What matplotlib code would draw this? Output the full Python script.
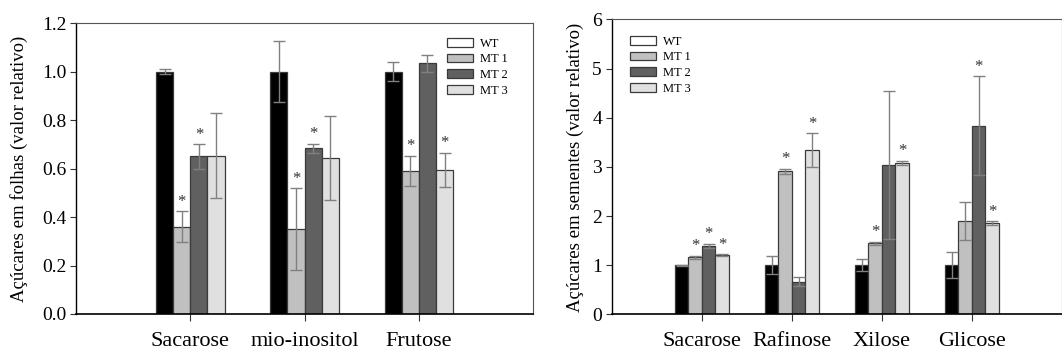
import numpy as np
import matplotlib
matplotlib.use("Agg")
import matplotlib.pyplot as plt
from matplotlib.patches import Patch

plt.rcParams['font.family'] = ['Liberation Serif', 'DejaVu Serif']

# leaves
leaf_sugars = ['Sacarose', 'mio-inositol', 'Frutose']
leaf_wt = [1.00, 1.00, 1.00]
leaf_mt1 = [0.36, 0.35, 0.59]
leaf_mt2 = [0.65, 0.683, 1.034]
leaf_mt3 = [0.653, 0.645, 0.594]
leaf_wt_err = [0.01, 0.125, 0.038]
leaf_mt1_err = [0.064, 0.17, 0.063]
leaf_mt2_err = [0.05, 0.02, 0.034]
leaf_mt3_err = [0.175, 0.173, 0.071]
leaf_mt1_sig = [True, True, True]
leaf_mt2_sig = [True, True, False]
leaf_mt3_sig = [False, False, True]

# seeds
seed_sugars = ['Sacarose', 'Rafinose', 'Xilose', 'Glicose']
seed_wt = [1.00, 1.00, 1.00, 1.00]
seed_mt1 = [1.166, 2.91, 1.45, 1.90]
seed_mt2 = [1.39, 0.66, 3.04, 3.84]
seed_mt3 = [1.20, 3.34, 3.08, 1.85]
seed_wt_err = [0.01, 0.18, 0.12, 0.26]
seed_mt1_err = [0.03, 0.05, 0.03, 0.38]
seed_mt2_err = [0.05, 0.09, 1.50, 1.00]
seed_mt3_err = [0.02, 0.35, 0.05, 0.04]
seed_mt1_sig = [True, True, True, False]
seed_mt2_sig = [True, False, False, True]
seed_mt3_sig = [True, True, True, True]

labels = ['WT', 'MT 1', 'MT 2', 'MT 3']
colors = ['#000000', '#c0c0c0', '#606060', '#e0e0e0']
legend_colors = ['#ffffff', '#c0c0c0', '#606060', '#e0e0e0']
w = 0.15
offsets = [-0.225, -0.075, 0.075, 0.225]


def draw_panel(ax, cats, series, errs, sigs, ylim, yticks, ylabel, legend_pos):
    x = np.arange(1, len(cats) + 1)
    for i, (vals, err) in enumerate(zip(series, errs)):
        ax.bar(x + offsets[i], vals, w, color=colors[i], edgecolor='#3a3a3a',
               linewidth=0.9, zorder=2)
        ax.errorbar(x + offsets[i], vals, yerr=err, fmt='none', ecolor='#808080',
                    elinewidth=1.0, capsize=4, capthick=1.0, zorder=3)
        if sigs[i] is not None:
            for xi, v, e, s in zip(x, vals, err, sigs[i]):
                if s:
                    ax.annotate('*', (xi + offsets[i], v + e), xytext=(0, 1),
                                textcoords='offset points', ha='center', va='bottom',
                                fontsize=12, color='#333333')
    ax.set_xlim(0, len(cats) + 1)
    ax.set_ylim(*ylim)
    ax.set_yticks(yticks)
    ax.set_xticks(x)
    ax.set_xticklabels(cats, fontsize=16)
    ax.set_ylabel(ylabel, fontsize=13.5)
    ax.tick_params(axis='x', direction='out', length=5, pad=8, color='#333333')
    ax.tick_params(axis='y', direction='out', length=4, pad=3, labelsize=14, color='#333333')
    for s in ['top', 'right']:
        ax.spines[s].set_color('#555555')
        ax.spines[s].set_linewidth(0.8)
    ax.spines['bottom'].set_linewidth(1.2)
    ax.spines['left'].set_linewidth(1.0)
    handles = [Patch(facecolor=c, edgecolor='#3a3a3a', linewidth=0.9) for c in legend_colors]
    ax.legend(handles, labels, loc='upper left', bbox_to_anchor=legend_pos, frameon=False,
              fontsize=9, handlelength=2.1, handleheight=0.7, labelspacing=0.3,
              handletextpad=0.55, borderaxespad=0, borderpad=0)


fig = plt.figure(figsize=(10.62, 3.54), dpi=100)
ax1 = fig.add_axes([0.0716, 0.113, 0.4304, 0.822])
ax2 = fig.add_axes([0.576, 0.112, 0.424, 0.833])

draw_panel(ax1, leaf_sugars,
           [leaf_wt, leaf_mt1, leaf_mt2, leaf_mt3],
           [leaf_wt_err, leaf_mt1_err, leaf_mt2_err, leaf_mt3_err],
           [None, leaf_mt1_sig, leaf_mt2_sig, leaf_mt3_sig],
           (0, 1.2), np.arange(0, 1.21, 0.2), 'Açúcares em folhas (valor relativo)',
           (0.812, 0.95))
ax1.set_yticklabels(['%.1f' % t for t in np.arange(0, 1.21, 0.2)])
ax1.yaxis.set_label_coords(-0.105, 0.5)

draw_panel(ax2, seed_sugars,
           [seed_wt, seed_mt1, seed_mt2, seed_mt3],
           [seed_wt_err, seed_mt1_err, seed_mt2_err, seed_mt3_err],
           [None, seed_mt1_sig, seed_mt2_sig, seed_mt3_sig],
           (0, 6), range(0, 7), 'Açúcares em sementes (valor relativo)',
           (0.04, 0.945))
ax2.yaxis.set_label_coords(-0.062, 0.5)

fig.savefig('out.png', dpi=100)
